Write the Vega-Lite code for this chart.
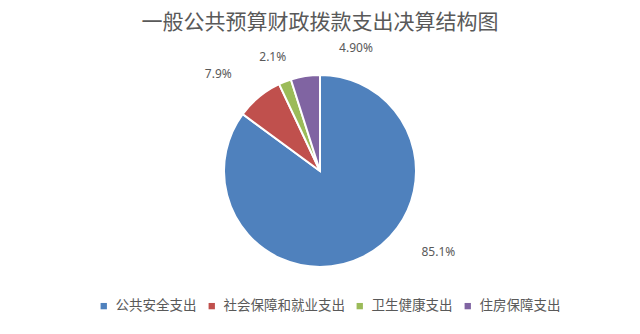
{
  "$schema": "https://vega.github.io/schema/vega-lite/v6.json",
  "width": 640,
  "height": 264,
  "autosize": {"type": "none"},
  "padding": {"left": 0, "right": 0, "top": 39, "bottom": 31},
  "background": "#ffffff",
  "title": {
    "text": "一般公共预算财政拨款支出决算结构图",
    "font": "Noto Sans CJK SC",
    "fontSize": 21,
    "fontWeight": "normal",
    "color": "#595959",
    "anchor": "middle",
    "offset": 6
  },
  "data": {
    "values": [
      {"k": 1, "category": "公共安全支出", "value": 85.1, "label": "85.1%"},
      {"k": 2, "category": "社会保障和就业支出", "value": 7.9, "label": "7.9%"},
      {"k": 3, "category": "卫生健康支出", "value": 2.1, "label": "2.1%"},
      {"k": 4, "category": "住房保障支出", "value": 4.9, "label": "4.90%"}
    ]
  },
  "layer": [
    {
      "mark": {"type": "arc", "outerRadius": 96, "stroke": "#ffffff", "strokeWidth": 2},
      "encoding": {
        "theta": {"field": "value", "type": "quantitative", "stack": true},
        "order": {"field": "k", "type": "quantitative"},
        "color": {
          "field": "category",
          "type": "nominal",
          "sort": null,
          "scale": {
            "domain": ["公共安全支出", "社会保障和就业支出", "卫生健康支出", "住房保障支出"],
            "range": ["#4F81BD", "#C0504D", "#9BBB59", "#8064A2"]
          },
          "legend": {
            "orient": "none",
            "legendX": 97,
            "legendY": 260,
            "direction": "horizontal",
            "title": null,
            "symbolType": "square",
            "symbolSize": 40,
            "symbolStrokeWidth": 0,
            "labelFont": "Noto Sans CJK SC",
            "labelFontSize": 13.5,
            "labelColor": "#595959",
            "labelOffset": 5,
            "columnPadding": 8,
            "labelLimit": 300
          }
        }
      }
    },
    {
      "transform": [
        {"stack": "value", "groupby": [], "sort": [{"field": "k"}], "as": ["t0", "t1"]},
        {"fold": ["t0", "t1"], "as": ["side", "t"]},
        {"aggregate": [{"op": "mean", "field": "t", "as": "mid"}], "groupby": ["k", "label"]},
        {"filter": "datum.k == 1"}
      ],
      "mark": {"type": "text", "radius": 85, "dx": 80, "dy": 5, "font": "Noto Sans", "fontSize": 12, "fill": "#595959"},
      "encoding": {
        "theta": {"field": "mid", "type": "quantitative"},
        "text": {"field": "label", "type": "nominal"}
      }
    },
    {
      "transform": [
        {"stack": "value", "groupby": [], "sort": [{"field": "k"}], "as": ["t0", "t1"]},
        {"fold": ["t0", "t1"], "as": ["side", "t"]},
        {"aggregate": [{"op": "mean", "field": "t", "as": "mid"}], "groupby": ["k", "label"]},
        {"filter": "datum.k == 2"}
      ],
      "mark": {"type": "text", "radius": 124, "dx": -23, "dy": -1, "font": "Noto Sans", "fontSize": 12, "fill": "#595959"},
      "encoding": {
        "theta": {"field": "mid", "type": "quantitative"},
        "text": {"field": "label", "type": "nominal"}
      }
    },
    {
      "transform": [
        {"stack": "value", "groupby": [], "sort": [{"field": "k"}], "as": ["t0", "t1"]},
        {"fold": ["t0", "t1"], "as": ["side", "t"]},
        {"aggregate": [{"op": "mean", "field": "t", "as": "mid"}], "groupby": ["k", "label"]},
        {"filter": "datum.k == 3"}
      ],
      "mark": {"type": "text", "radius": 124, "dx": -2, "dy": 1, "font": "Noto Sans", "fontSize": 12, "fill": "#595959"},
      "encoding": {
        "theta": {"field": "mid", "type": "quantitative"},
        "text": {"field": "label", "type": "nominal"}
      }
    },
    {
      "transform": [
        {"stack": "value", "groupby": [], "sort": [{"field": "k"}], "as": ["t0", "t1"]},
        {"fold": ["t0", "t1"], "as": ["side", "t"]},
        {"aggregate": [{"op": "mean", "field": "t", "as": "mid"}], "groupby": ["k", "label"]},
        {"filter": "datum.k == 4"}
      ],
      "mark": {"type": "text", "radius": 124, "dx": 55, "dy": 0, "font": "Noto Sans", "fontSize": 12, "fill": "#595959"},
      "encoding": {
        "theta": {"field": "mid", "type": "quantitative"},
        "text": {"field": "label", "type": "nominal"}
      }
    }
  ],
  "config": {
    "view": {"stroke": null}
  }
}
